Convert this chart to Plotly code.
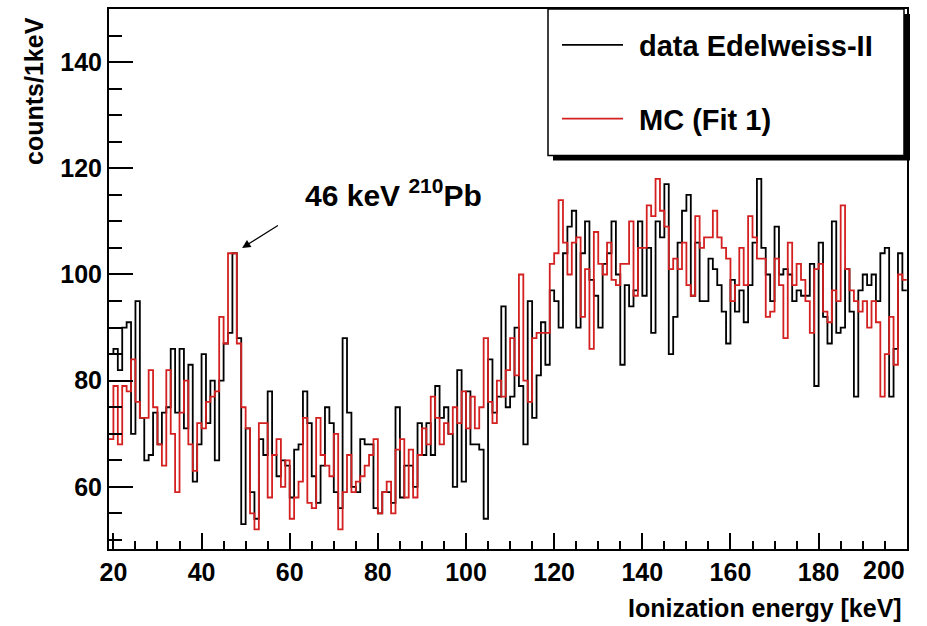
import plotly.graph_objects as go

# ---- data: 1 keV bins, lower edges 19..199 ----
bin_low = list(range(19, 200))
bin_high_end = 200

data_counts = [
    85, 86, 82, 90, 91, 70, 95, 73, 65, 66,
    74, 68, 74, 75, 86, 74, 86, 71, 83, 61,
    68, 85, 72, 80, 65, 80, 87, 89, 104, 88,
    53, 71, 59, 54, 69, 66, 78, 66, 62, 65,
    64, 58, 67, 68, 78, 72, 62, 57, 64, 75,
    72, 59, 56, 88, 74, 60, 59, 69, 68, 68,
    56, 55, 59, 59, 57, 75, 58, 64, 64, 60,
    72, 66, 72, 66, 79, 73, 75, 70, 60, 82,
    61, 78, 68, 68, 67, 54, 84, 74, 77, 94,
    75, 77, 90, 79, 68, 95, 73, 81, 91, 83,
    97, 95, 90, 104, 109, 112, 90, 104, 110, 99,
    96, 90, 102, 104, 110, 100, 83, 98, 94, 97,
    110, 96, 105, 89, 110, 107, 117, 85, 92, 106,
    112, 115, 96, 106, 95, 95, 103, 101, 98, 93,
    87, 99, 93, 97, 91, 98, 106, 118, 105, 100,
    95, 109, 100, 101, 100, 95, 97, 96, 96, 102,
    79, 106, 92, 87, 110, 89, 90, 101, 93, 77,
    97, 100, 98, 100, 95, 104, 105, 77, 86, 104, 97,
]

mc_counts = [
    69, 79, 68, 79, 78, 84, 76, 73, 73, 82,
    75, 68, 64, 82, 70, 59, 74, 80, 68, 63,
    72, 71, 76, 77, 78, 92, 87, 104, 104, 87,
    75, 71, 55, 52, 72, 72, 58, 66, 69, 60,
    65, 54, 58, 61, 73, 57, 56, 73, 66, 64,
    62, 70, 52, 59, 66, 59, 61, 62, 64, 66,
    69, 55, 59, 61, 55, 67, 69, 58, 67, 58,
    66, 71, 68, 77, 73, 68, 72, 70, 75, 72,
    78, 71, 77, 71, 75, 88, 76, 72, 80, 77,
    82, 88, 81, 100, 80, 76, 88, 89, 89, 89,
    102, 104, 114, 106, 100, 106, 107, 92, 101, 86,
    108, 102, 100, 106, 99, 98, 102, 102, 110, 96,
    105, 105, 113, 111, 118, 112, 109, 101, 103, 101,
    106, 98, 96, 111, 105, 107, 107, 112, 107, 105,
    103, 95, 98, 105, 98, 111, 107, 103, 103, 92,
    93, 103, 98, 88, 106, 98, 102, 99, 95, 89,
    101, 102, 93, 91, 97, 95, 113, 101, 97, 95,
    93, 95, 90, 95, 91, 77, 85, 92, 83, 100, 99,
]

x_ticks = [20, 40, 60, 80, 100, 120, 140, 160, 180, 200]
x_tick_labels = ["20", "40", "60", "80", "100", "120", "140", "160", "180", ""]
x_last_label = "200"
y_ticks = [60, 80, 100, 120, 140]

series_names = ["data Edelweiss-II", "MC (Fit 1)"]
series_colors = ["#000000", "#d42020"]

# ---- layout geometry ----
W, H = 927, 626
ML, MR, MT, MB = 109, 20, 7, 77
PW = W - ML - MR
PH = H - MT - MB
FONT = "Liberation Sans, Arial, sans-serif"


def pxx(p):
    return (p - ML) / PW


def pxy(p):
    return (H - MB - p) / PH


def step(counts):
    return bin_low + [bin_high_end], counts + [counts[-1]]


fig = go.Figure()
for name, counts, col in zip(series_names, [data_counts, mc_counts], series_colors):
    xs, ys = step(counts)
    fig.add_trace(go.Scatter(x=xs, y=ys, mode="lines", name=name,
                             line=dict(color=col, width=1.8, shape="hv"),
                             showlegend=False, hoverinfo="skip"))

tickfont = dict(family=FONT, size=25, color="black", weight="bold")
titlefont = dict(family=FONT, size=25, color="black", weight="bold")

fig.update_layout(
    width=W, height=H,
    margin=dict(l=ML, r=MR, t=MT, b=MB),
    paper_bgcolor="white", plot_bgcolor="white",
    font=dict(family=FONT, color="black"),
    xaxis=dict(range=[19, 200.05], tickmode="array", tickvals=x_ticks,
               ticktext=x_tick_labels,
               ticks="inside", ticklen=16, tickwidth=1.5, tickcolor="black",
               showline=True, linecolor="black", linewidth=2, mirror=True,
               showgrid=False, zeroline=False, tickfont=tickfont,
               minor=dict(dtick=5, tick0=20, ticks="inside", ticklen=8,
                          tickwidth=1.5, tickcolor="black", showgrid=False)),
    yaxis=dict(range=[48.3, 150], tickmode="array", tickvals=y_ticks,
               ticks="inside", ticklen=24, tickwidth=1.5, tickcolor="black",
               showline=True, linecolor="black", linewidth=2, mirror=True,
               showgrid=False, zeroline=False, tickfont=tickfont,
               minor=dict(dtick=5, tick0=50, ticks="inside", ticklen=13,
                          tickwidth=1.5, tickcolor="black", showgrid=False)),
)

# last x tick label, kept inside the page like in the reference
fig.add_annotation(text=x_last_label, xref="x", yref="paper",
                   x=x_ticks[-1], y=pxy(570), xanchor="right", yanchor="middle",
                   showarrow=False, font=tickfont)

# axis titles
fig.add_annotation(text="counts/1keV", xref="paper", yref="paper",
                   x=pxx(34), y=pxy(13), xanchor="center", yanchor="top",
                   textangle=-90, showarrow=False, font=titlefont)
fig.add_annotation(text="Ionization energy [keV]", xref="paper", yref="paper",
                   x=pxx(904), y=pxy(608), xanchor="right", yanchor="middle",
                   showarrow=False, font=titlefont)

# peak label and arrow
fig.add_annotation(text="46 keV <sup>210</sup>Pb", xref="x", yref="y",
                   x=63.0, y=115.4, xanchor="left", yanchor="middle",
                   showarrow=False,
                   font=dict(family=FONT, size=30, color="black", weight="bold"))
fig.add_annotation(text=" ", xref="x", yref="y", axref="x", ayref="y",
                   x=49.2, y=105.0, ax=58.0, ay=109.6,
                   showarrow=True, arrowhead=2, arrowsize=1.4, arrowwidth=1.2,
                   arrowcolor="black")

# legend (box with shadow)
fig.add_shape(type="rect", xref="paper", yref="paper",
              x0=pxx(553), x1=pxx(910), y0=pxy(159), y1=pxy(12),
              fillcolor="black", line=dict(width=0), layer="above")
fig.add_shape(type="rect", xref="paper", yref="paper",
              x0=pxx(548), x1=pxx(904), y0=pxy(154), y1=pxy(7),
              fillcolor="white", line=dict(color="black", width=1.5), layer="above")
for i, (name, col) in enumerate(zip(series_names, series_colors)):
    yc = [43, 117][i]
    fig.add_shape(type="line", xref="paper", yref="paper",
                  x0=pxx(562), x1=pxx(623), y0=pxy(yc), y1=pxy(yc),
                  line=dict(color=col, width=1.8), layer="above")
    fig.add_annotation(text=name, xref="paper", yref="paper",
                       x=pxx(637), y=pxy(yc + 1), xanchor="left", yanchor="middle",
                       showarrow=False,
                       font=dict(family=FONT, size=29, color="black", weight="bold"))

fig.write_html("out.html", config={"displayModeBar": False},
               post_script="document.body.style.margin='0';document.body.style.overflow='hidden';")
